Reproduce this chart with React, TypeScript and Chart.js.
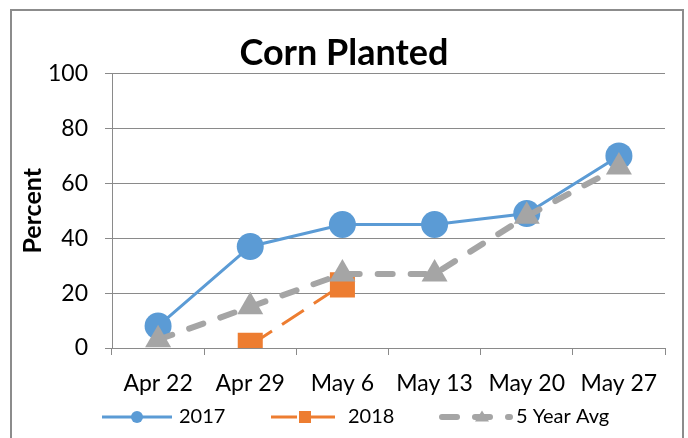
import React, { useEffect, useRef } from 'react';
import { Chart, registerables } from 'chart.js';

Chart.register(...registerables);

const categories = ['Apr 22', 'Apr 29', 'May 6', 'May 13', 'May 20', 'May 27'];
const series2017 = [8, 37, 45, 45, 49, 70];
const series2018 = [null, 1, 23, null, null, null];
const series5yr = [3, 15, 27, 27, 48, 66];
const seriesLabels = ['2017', '2018', '5 Year Avg'];
const titleText = 'Corn Planted';
const yTitleText = 'Percent';
const yMin = 0;
const yMax = 100;
const yStep = 20;

const FONT = 'Lato, "Open Sans", "DejaVu Sans", sans-serif';
const GRID = '#8a8a8a';

function drawMarker(ctx: CanvasRenderingContext2D, style: string, x: number, y: number, r: number) {
  ctx.beginPath();
  if (style === 'circle') {
    ctx.arc(x, y, r, 0, Math.PI * 2);
  } else if (style === 'rect') {
    ctx.rect(x - r, y - r, 2 * r, 2 * r);
  } else if (style === 'triangle') {
    const h = r * 1.6;
    ctx.moveTo(x, y - h / 2 - 1);
    ctx.lineTo(x + r, y + h / 2 - 1);
    ctx.lineTo(x - r, y + h / 2 - 1);
    ctx.closePath();
  }
  ctx.fill();
}

const legendPlugin = {
  id: 'excelLegend',
  afterDraw(chart: any) {
    const ctx: CanvasRenderingContext2D = chart.ctx;
    const y = chart.chartArea.bottom + 69;
    const items = [
      { ds: 0, x1: 102, x2: 172, mx: 137, mr: 6, tx: 179 },
      { ds: 1, x1: 271, x2: 341, mx: 305, mr: 6, tx: 348 },
      { ds: 2, x1: 442, x2: 510, mx: 482, mr: 7, tx: 516 },
    ];
    items.forEach((it) => {
      const ds = chart.data.datasets[it.ds];
      ctx.save();
      ctx.strokeStyle = ds.borderColor;
      ctx.lineWidth = ds.borderWidth;
      ctx.lineCap = ds.borderCapStyle || 'butt';
      ctx.setLineDash(ds.borderDash || []);
      ctx.beginPath();
      ctx.moveTo(it.x1, y);
      ctx.lineTo(it.x2, y);
      ctx.stroke();
      ctx.setLineDash([]);
      ctx.fillStyle = ds.backgroundColor;
      drawMarker(ctx, ds.pointStyle, it.mx, y, it.mr);
      ctx.fillStyle = '#000';
      ctx.font = `20px ${FONT}`;
      ctx.textBaseline = 'middle';
      ctx.textAlign = 'left';
      ctx.fillText(ds.label, it.tx, y);
      ctx.restore();
    });
  },
};

export default function App() {
  const canvasRef = useRef<HTMLCanvasElement | null>(null);

  useEffect(() => {
    const canvas = canvasRef.current;
    if (!canvas) return;
    const chart = new Chart(canvas, {
      type: 'line',
      data: {
        labels: categories,
        datasets: [
          {
            label: seriesLabels[0],
            data: series2017,
            borderColor: '#5B9BD5',
            backgroundColor: '#5B9BD5',
            borderWidth: 3,
            pointStyle: 'circle',
            pointRadius: 13.5,
            pointBorderWidth: 0,
            tension: 0,
            order: 2,
          },
          {
            label: seriesLabels[1],
            data: series2018,
            borderColor: '#ED7D31',
            backgroundColor: '#ED7D31',
            borderWidth: 3,
            borderDash: [26, 12],
            pointStyle: 'rect',
            pointRadius: 17.7,
            pointBorderWidth: 0,
            tension: 0,
            spanGaps: false,
            order: 1,
          },
          {
            label: seriesLabels[2],
            data: series5yr,
            borderColor: '#A5A5A5',
            backgroundColor: '#A5A5A5',
            borderWidth: 6,
            borderDash: [15, 18],
            borderCapStyle: 'round',
            pointStyle: 'triangle',
            pointRadius: 15,
            pointBorderWidth: 0,
            tension: 0,
            order: 0,
          },
        ] as any,
      },
      options: {
        responsive: false,
        animation: false,
        events: [],
        layout: { padding: { left: 0, right: 0, top: 0, bottom: 40 } },
        plugins: {
          legend: { display: false },
          tooltip: { enabled: false },
          title: {
            display: true,
            text: titleText,
            color: '#000',
            font: { family: FONT, size: 36, weight: 'bold', lineHeight: 1.1 },
            padding: { top: 34, bottom: 0 },
          },
        },
        scales: {
          x: {
            type: 'category',
            offset: true,
            grid: { offset: true, drawOnChartArea: false, tickLength: 7, color: GRID, lineWidth: 1 },
            border: { color: GRID, width: 1 },
            ticks: {
              color: '#000',
              font: { family: FONT, size: 23 },
              padding: 15,
              maxRotation: 0,
              autoSkip: false,
            },
            afterFit: (s: any) => {
              s.height = 50;
            },
          },
          y: {
            min: yMin,
            max: yMax,
            ticks: {
              stepSize: yStep,
              color: '#000',
              font: { family: FONT, size: 23 },
              padding: 17,
            },
            grid: { color: GRID, lineWidth: 1, tickLength: 7 },
            border: { color: GRID, width: 1 },
            title: {
              display: true,
              text: yTitleText,
              color: '#000',
              font: { family: FONT, size: 25, weight: 'bold' },
              padding: { top: 18, bottom: 0 },
            },
            afterFit: (s: any) => {
              s.width = 112;
            },
          },
          yRight: {
            position: 'right',
            min: yMin,
            max: yMax,
            grid: { display: false, drawOnChartArea: false },
            border: { display: false },
            ticks: { display: false },
            afterFit: (s: any) => {
              s.width = 23;
            },
          },
        },
      } as any,
      plugins: [legendPlugin],
    });
    return () => chart.destroy();
  }, []);

  return (
    <div style={{ position: 'absolute', left: 0, top: 0, width: 688, height: 438, overflow: 'hidden', background: '#fff' }}>
      <canvas ref={canvasRef} width={688} height={438} style={{ position: 'absolute', left: 0, top: 0 }} />
      <div
        style={{
          position: 'absolute',
          left: 10,
          top: 9,
          width: 674,
          height: 460,
          border: '2px solid #8c8c8c',
          boxSizing: 'border-box',
          pointerEvents: 'none',
        }}
      />
    </div>
  );
}
